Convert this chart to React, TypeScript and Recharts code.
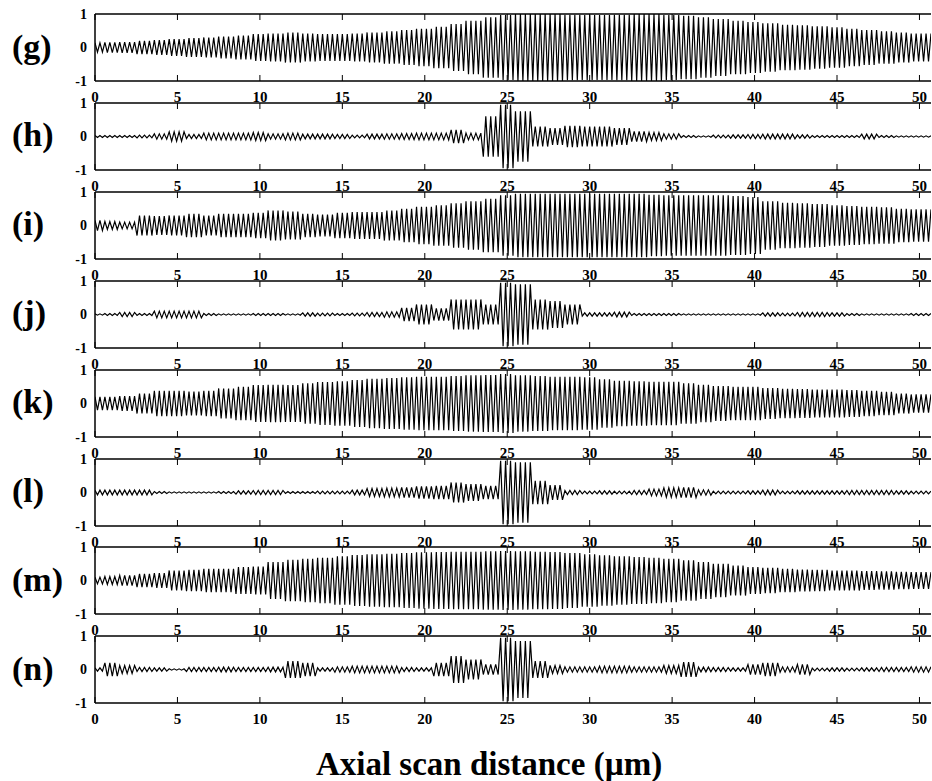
import { LineChart, Line, XAxis, YAxis, ReferenceLine } from 'recharts'

// panel tags, top to bottom
const PANEL_LABELS = ['(g)', '(h)', '(i)', '(j)', '(k)', '(l)', '(m)', '(n)']
const X_TICKS = [0, 5, 10, 15, 20, 25, 30, 35, 40, 45, 50]
const Y_TICKS = [-1, 0, 1]
const X_MAX = 50.7
// half a fringe period in µm (~0.3 µm per fringe)
const FRINGE_STEP = 0.15

// fringe envelope, one value per µm (0..50)
const ENV_G = [0.14, 0.15, 0.16, 0.2, 0.22, 0.25, 0.28, 0.3, 0.33, 0.36, 0.4, 0.42, 0.45, 0.42, 0.4, 0.4, 0.42, 0.45, 0.48, 0.52, 0.56, 0.62, 0.7, 0.8, 0.9, 0.97, 1.0, 1.0, 1.0, 0.98, 0.97, 0.97, 0.98, 1.0, 1.0, 0.97, 0.95, 0.9, 0.85, 0.8, 0.76, 0.72, 0.68, 0.66, 0.63, 0.6, 0.56, 0.52, 0.48, 0.45, 0.42]
const ENV_H = [0.03, 0.03, 0.03, 0.04, 0.08, 0.14, 0.06, 0.1, 0.1, 0.1, 0.12, 0.08, 0.1, 0.07, 0.07, 0.06, 0.04, 0.07, 0.08, 0.09, 0.1, 0.1, 0.2, 0.1, 0.6, 0.95, 0.75, 0.3, 0.25, 0.32, 0.3, 0.3, 0.25, 0.15, 0.12, 0.08, 0.03, 0.02, 0.04, 0.05, 0.06, 0.07, 0.07, 0.05, 0.03, 0.03, 0.03, 0.07, 0.03, 0.02, 0.02]
const ENV_I = [0.15, 0.12, 0.1, 0.3, 0.28, 0.3, 0.35, 0.3, 0.35, 0.35, 0.38, 0.45, 0.42, 0.35, 0.33, 0.38, 0.4, 0.4, 0.45, 0.5, 0.56, 0.6, 0.66, 0.72, 0.8, 0.9, 0.95, 0.95, 0.95, 0.95, 0.95, 0.95, 0.95, 0.95, 0.92, 0.9, 0.9, 0.9, 0.9, 0.88, 0.85, 0.72, 0.68, 0.66, 0.64, 0.6, 0.58, 0.56, 0.54, 0.5, 0.48]
const ENV_J = [0.02, 0.03, 0.06, 0.03, 0.1, 0.1, 0.1, 0.03, 0.02, 0.02, 0.03, 0.03, 0.02, 0.05, 0.04, 0.03, 0.04, 0.06, 0.08, 0.2, 0.3, 0.18, 0.45, 0.45, 0.3, 0.95, 0.9, 0.45, 0.4, 0.3, 0.05, 0.05, 0.07, 0.03, 0.03, 0.03, 0.02, 0.02, 0.02, 0.02, 0.02, 0.05, 0.04, 0.06, 0.06, 0.05, 0.03, 0.02, 0.02, 0.02, 0.03]
const ENV_K = [0.2, 0.2, 0.22, 0.3, 0.38, 0.38, 0.36, 0.38, 0.45, 0.5, 0.55, 0.56, 0.55, 0.6, 0.64, 0.66, 0.7, 0.74, 0.76, 0.78, 0.8, 0.8, 0.82, 0.84, 0.85, 0.88, 0.84, 0.82, 0.8, 0.8, 0.78, 0.72, 0.68, 0.66, 0.65, 0.65, 0.6, 0.56, 0.52, 0.5, 0.5, 0.46, 0.44, 0.43, 0.42, 0.42, 0.4, 0.38, 0.35, 0.3, 0.27]
const ENV_L = [0.07, 0.07, 0.07, 0.07, 0.03, 0.02, 0.02, 0.02, 0.03, 0.05, 0.06, 0.06, 0.03, 0.03, 0.04, 0.04, 0.07, 0.12, 0.13, 0.15, 0.18, 0.2, 0.3, 0.25, 0.2, 0.95, 0.9, 0.35, 0.22, 0.06, 0.04, 0.05, 0.04, 0.06, 0.1, 0.14, 0.15, 0.08, 0.04, 0.04, 0.05, 0.07, 0.04, 0.05, 0.05, 0.05, 0.06, 0.06, 0.06, 0.05, 0.04]
const ENV_M = [0.1, 0.12, 0.15, 0.2, 0.22, 0.3, 0.32, 0.35, 0.35, 0.4, 0.42, 0.55, 0.62, 0.65, 0.68, 0.72, 0.76, 0.78, 0.8, 0.82, 0.84, 0.85, 0.86, 0.86, 0.87, 0.88, 0.87, 0.86, 0.85, 0.82, 0.78, 0.75, 0.72, 0.7, 0.68, 0.65, 0.6, 0.55, 0.5, 0.45, 0.4, 0.38, 0.35, 0.33, 0.32, 0.3, 0.3, 0.28, 0.27, 0.26, 0.25]
const ENV_N = [0.05, 0.2, 0.12, 0.06, 0.05, 0.02, 0.06, 0.06, 0.07, 0.06, 0.06, 0.07, 0.25, 0.2, 0.05, 0.08, 0.1, 0.1, 0.1, 0.06, 0.05, 0.2, 0.4, 0.3, 0.15, 0.95, 0.85, 0.25, 0.12, 0.08, 0.08, 0.1, 0.1, 0.08, 0.08, 0.12, 0.22, 0.07, 0.06, 0.05, 0.15, 0.2, 0.08, 0.15, 0.04, 0.05, 0.04, 0.05, 0.06, 0.06, 0.08]

const ENVELOPES = [ENV_G, ENV_H, ENV_I, ENV_J, ENV_K, ENV_L, ENV_M, ENV_N]

const SERIF = '"Liberation Serif", "Times New Roman", serif'
const TOP0 = 14
const PITCH = 88.9
const PLOT_H = 67
const M_TOP = 12
const X_AXIS_H = 30

// alternate +/- envelope at every half fringe
function fringeData(env: number[]) {
  const pts: { x: number; y: number }[] = []
  const n = Math.floor(X_MAX / FRINGE_STEP)
  for (let k = 0; k <= n; k++) {
    const x = k * FRINGE_STEP
    const a = env[Math.min(env.length - 1, Math.round(x))]
    pts.push({ x, y: k % 2 === 0 ? a : -a })
  }
  return pts
}

function XTick({ x, y, payload }: any) {
  return (
    <g>
      <line x1={x} x2={x} y1={y} y2={y - 6} stroke="#000" />
      <line x1={x} x2={x} y1={y - PLOT_H} y2={y - PLOT_H + 6} stroke="#000" />
      <text x={x} y={y + 21} textAnchor="middle" fontSize={15} fontWeight={700} fontFamily={SERIF} fill="#000">
        {payload.value}
      </text>
    </g>
  )
}

function Panel({ env, index }: { env: number[]; index: number }) {
  const data = fringeData(env)
  return (
    <div style={{ position: 'absolute', left: 0, top: TOP0 + index * PITCH - M_TOP }}>
      <LineChart
        width={932}
        height={M_TOP + PLOT_H + X_AXIS_H}
        data={data}
        margin={{ top: M_TOP, right: 1, bottom: 0, left: 60 }}
      >
        <XAxis
          dataKey="x"
          type="number"
          domain={[0, X_MAX]}
          ticks={X_TICKS}
          interval={0}
          allowDataOverflow
          height={X_AXIS_H}
          tickSize={0}
          tickMargin={0}
          tickLine={false}
          axisLine={{ stroke: '#000', strokeWidth: 1.5 }}
          tick={<XTick />}
        />
        <YAxis
          type="number"
          domain={[-1, 1]}
          ticks={Y_TICKS}
          interval={0}
          allowDataOverflow
          width={35}
          tickSize={0}
          tickMargin={8}
          tickLine={false}
          axisLine={{ stroke: '#000', strokeWidth: 1.5 }}
          tick={{ fill: '#000', fontSize: 14, fontWeight: 700, fontFamily: SERIF }}
        />
        <ReferenceLine y={1} stroke="#000" strokeWidth={1.5} />
        <Line
          dataKey="y"
          type="linear"
          dot={false}
          stroke="#000"
          strokeWidth={1.2}
          isAnimationActive={false}
        />
      </LineChart>
    </div>
  )
}

export default function App() {
  return (
    <div style={{ position: 'absolute', left: 0, top: 0, width: 932, height: 781, background: '#fff' }}>
      {ENVELOPES.map((env, i) => (
        <Panel key={i} env={env} index={i} />
      ))}
      <svg width={932} height={781} style={{ position: 'absolute', left: 0, top: 0, pointerEvents: 'none' }}>
        {PANEL_LABELS.map((lab, i) => (
          <text
            key={lab}
            x={12}
            y={TOP0 + i * PITCH + PLOT_H / 2 + 10}
            fontSize={34}
            fontWeight={700}
            fontFamily={SERIF}
            fill="#000"
          >
            {lab}
          </text>
        ))}
        <text x={489} y={775} textAnchor="middle" fontSize={33} fontWeight={700} fontFamily={SERIF} fill="#000">
          Axial scan distance (µm)
        </text>
      </svg>
    </div>
  )
}
